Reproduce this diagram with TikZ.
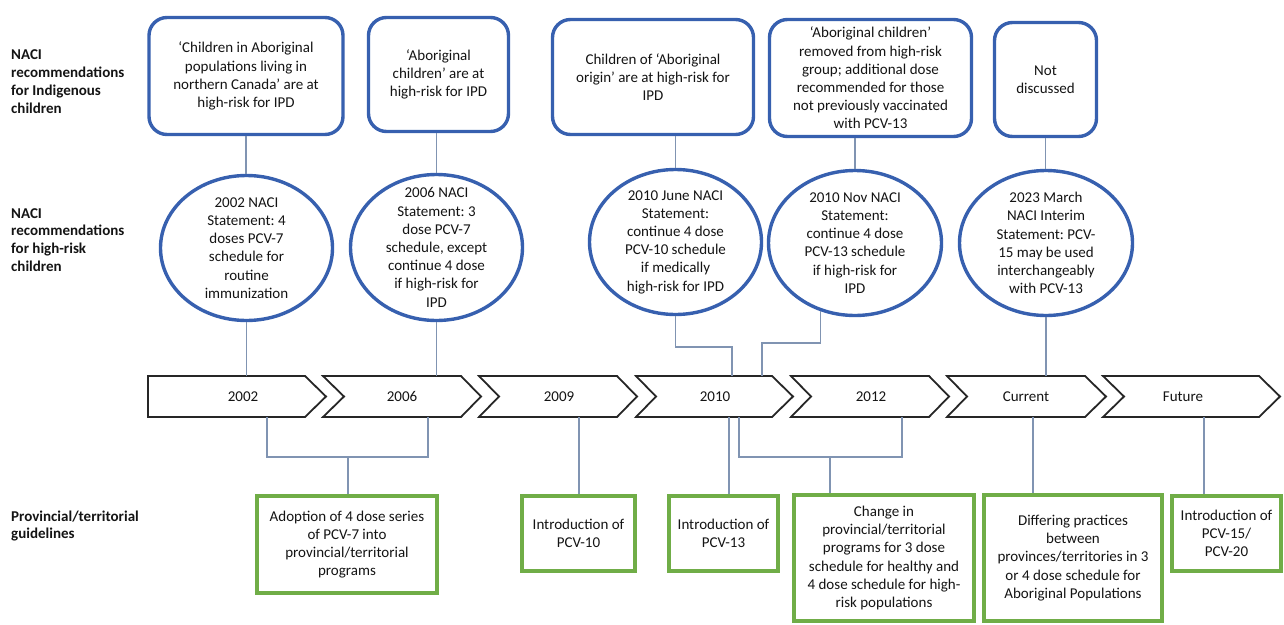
\documentclass[tikz,border=0pt]{standalone}
\usepackage{fontspec}
\setmainfont{Carlito}
\usetikzlibrary{shapes.geometric}
\definecolor{naciblue}{RGB}{55,96,175}
\definecolor{pgreen}{RGB}{112,173,71}
\definecolor{conncol}{RGB}{128,148,178}
\frenchspacing
\begin{document}
\begin{tikzpicture}[x=1pt,y=-1pt,
  every node/.style={font=\fontsize{15}{18.2}\selectfont, text=black!92},
  rbox/.style={draw=naciblue, line width=3.4pt, rounded corners=18pt, fill=white, align=center, inner sep=2pt},
  oval/.style={draw=naciblue, line width=3.4pt, ellipse, inner sep=0pt, fill=white},
  otext/.style={align=center, inner sep=0pt},
  gbox/.style={draw=pgreen, line width=3.2pt, fill=white, align=center, inner sep=2pt},
  conn/.style={draw=conncol, line width=1.1pt},
  seg/.style={draw=black!85, line width=1.8pt, fill=white, line join=miter},
  yr/.style={inner sep=0pt},
  lbl/.style={font=\bfseries\fontsize{15}{17.8}\selectfont, align=left, anchor=west, inner sep=0pt}]
\useasboundingbox (0,0) rectangle (1284,624);

% left row labels
\node[lbl] (L1) at (11,81.5) {NACI\\recommendations\\for Indigenous\\children};
\node[lbl] (L2) at (11,240) {NACI\\recommendations\\for high-risk\\children};
\node[lbl] (L3) at (11,526) {Provincial/territorial\\guidelines};

% named timeline reference coordinates
\coordinate (ttop) at (0,376);
\coordinate (tbot) at (0,417);

% timeline chevrons
\draw[seg] (148,376) -- (305,376) -- (326,396.5) -- (305,417) -- (148,417) -- cycle;
\draw[seg] (323,376) -- (461,376) -- (481,396.5) -- (461,417) -- (323,417) -- (344,396.5) -- cycle;
\draw[seg] (479,376) -- (617,376) -- (637,396.5) -- (617,417) -- (479,417) -- (499,396.5) -- cycle;
\draw[seg] (636,376) -- (772,376) -- (793,396.5) -- (772,417) -- (636,417) -- (656,396.5) -- cycle;
\draw[seg] (791,376) -- (929,376) -- (949,396.5) -- (929,417) -- (791,417) -- (811,396.5) -- cycle;
\draw[seg] (947,376) -- (1085,376) -- (1106,396.5) -- (1085,417) -- (947,417) -- (967,396.5) -- cycle;
\draw[seg] (1103,376) -- (1259,376) -- (1280,396.5) -- (1259,417) -- (1103,417) -- (1124,396.5) -- cycle;
\node[yr] (Y1) at (243,396.5) {2002};
\node[yr] (Y2) at (402,396.5) {2006};
\node[yr] (Y3) at (559,396.5) {2009};
\node[yr] (Y4) at (715,396.5) {2010};
\node[yr] (Y5) at (871,396.5) {2012};
\node[yr] (Y6) at (1026,396.5) {Current};
\node[yr] (Y7) at (1183,396.5) {Future};

% top boxes
\node[rbox, minimum width=194pt, minimum height=117pt] (B1) at (246,76) {‘Children in Aboriginal\\populations living in\\northern Canada’ are at\\high-risk for IPD};
\node[rbox, minimum width=140pt, minimum height=114pt] (B2) at (438.5,74.5) {‘Aboriginal\\children’ are at\\high-risk for IPD};
\node[rbox, minimum width=201pt, minimum height=115pt] (B3) at (653,77) {Children of ‘Aboriginal\\origin’ are at high-risk for\\IPD};
\node[rbox, minimum width=202pt, minimum height=117pt] (B4) at (870.5,78) {‘Aboriginal children’\\removed from high-risk\\group; additional dose\\recommended for those\\not previously vaccinated\\with PCV-13};
\node[rbox, minimum width=102pt, minimum height=114pt] (B5) at (1045.5,79.5) {Not\\discussed};

% ellipses
\node[oval, minimum width=172pt, minimum height=145pt] (E1) at (246.5,248) {};
\node[oval, minimum width=172pt, minimum height=146pt] (E2) at (436.5,247.5) {};
\node[oval, minimum width=172pt, minimum height=145pt] (E3) at (675.5,242) {};
\node[oval, minimum width=173pt, minimum height=145pt] (E4) at (855,243) {};
\node[oval, minimum width=173pt, minimum height=145pt] (E5) at (1046,243) {};
\node[otext] (E1t) at (E1) {2002 NACI\\Statement: 4\\doses PCV-7\\schedule for\\routine\\immunization};
\node[otext] (E2t) at (E2) {2006 NACI\\Statement: 3\\dose PCV-7\\schedule, except\\continue 4 dose\\if high-risk for\\IPD};
\node[otext] (E3t) at (E3) {2010 June NACI\\Statement:\\continue 4 dose\\PCV-10 schedule\\if medically\\high-risk for IPD};
\node[otext] (E4t) at (E4) {2010 Nov NACI\\Statement:\\continue 4 dose\\PCV-13 schedule\\if high-risk for\\IPD};
\node[otext] (E5t) at (E5) {2023 March\\NACI Interim\\Statement: PCV-\\15 may be used\\interchangeably\\with PCV-13};

% bottom boxes
\node[gbox, minimum width=180pt, minimum height=97pt] (G1) at (347,544.5) {Adoption of 4 dose series\\of PCV-7 into\\provincial/territorial\\programs};
\node[gbox, minimum width=113pt, minimum height=75pt] (G2) at (578.5,533.5) {Introduction of\\PCV-10};
\node[gbox, minimum width=109pt, minimum height=75pt] (G3) at (723.5,533.5) {Introduction of\\PCV-13};
\node[gbox, minimum width=180pt, minimum height=126pt] (G4) at (884,558) {Change in\\provincial/territorial\\programs for 3 dose\\schedule for healthy and\\4 dose schedule for high-\\risk populations};
\node[gbox, minimum width=178pt, minimum height=126pt] (G5) at (1073,558) {Differing practices\\between\\provinces/territories in 3\\or 4 dose schedule for\\Aboriginal Populations};
\node[gbox, minimum width=109pt, minimum height=75pt] (G6) at (1226.5,533.5) {Introduction of\\PCV-15/\\PCV-20};

% connectors: boxes to ellipses
\draw[conn] (B1.south) -- (B1.south |- E1.north);
\draw[conn] (E2.north) -- (E2.north |- B2.south);
\draw[conn] (E3.north) -- (E3.north |- B3.south);
\draw[conn] (E4.north) -- (E4.north |- B4.south);
\draw[conn] (B5.south) -- (B5.south |- E5.north);

% connectors: ellipses to timeline
\coordinate (k3) at (732,347);
\coordinate (t3) at (732,376);
\coordinate (k4) at (762,343);
\coordinate (t4) at (762,376);
\draw[conn] (E1.south) -- (E1.south |- ttop);
\draw[conn] (E2.south) -- (E2.south |- ttop);
\draw[conn] (E3.south) |- (k3) -- (t3);
\draw[conn] (E4.-117) |- (k4) -- (t4);
\draw[conn] (E5.south) -- (E5.south |- ttop);

% connectors: timeline to bottom boxes
\coordinate (a1) at (267,417);
\coordinate (a2) at (428,417);
\coordinate (s1) at (348,457);
\draw[conn] (a1) -- (267,457) -- (428,457) -- (a2);
\draw[conn] (s1) -- (s1 |- G1.north);
\coordinate (a3) at (579,417);
\draw[conn] (a3) -- (a3 |- G2.north);
\coordinate (a4) at (729,417);
\draw[conn] (a4) -- (a4 |- G3.north);
\coordinate (a5) at (739,417);
\coordinate (a6) at (902,417);
\coordinate (s2) at (830,457);
\draw[conn] (a5) -- (739,457) -- (902,457) -- (a6);
\draw[conn] (s2) -- (s2 |- G4.north);
\coordinate (a7) at (1033,417);
\draw[conn] (a7) -- (a7 |- G5.north);
\coordinate (a8) at (1204,417);
\draw[conn] (a8) -- (a8 |- G6.north);
\end{tikzpicture}
\end{document}
